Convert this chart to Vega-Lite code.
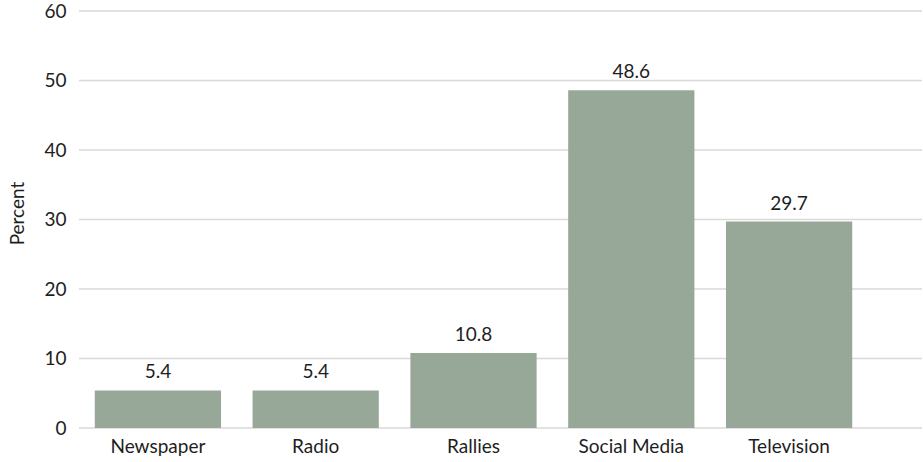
{
  "$schema": "https://vega.github.io/schema/vega-lite/v6.json",
  "autosize": "none",
  "width": 843,
  "height": 417,
  "padding": {"left": 79, "top": 11, "right": 1, "bottom": 34},
  "background": "white",
  "config": {
    "view": {"stroke": null},
    "font": "Lato",
    "axis": {"labelFont": "Lato", "titleFont": "Lato", "labelColor": "#1e1e1e", "titleColor": "#1e1e1e"}
  },
  "datasets": {
    "bars": [
      {"source": "Newspaper", "percent": 5.4},
      {"source": "Radio", "percent": 5.4},
      {"source": "Rallies", "percent": 10.8},
      {"source": "Social Media", "percent": 48.6},
      {"source": "Television", "percent": 29.7}
    ],
    "grid": [
      {"v": 0}, {"v": 10}, {"v": 20}, {"v": 30}, {"v": 40}, {"v": 50}, {"v": 60}
    ]
  },
  "layer": [
    {
      "data": {"name": "grid"},
      "mark": {"type": "rule", "color": "#d9d9d9", "strokeWidth": 1.5},
      "encoding": {
        "y": {
          "field": "v",
          "type": "quantitative",
          "scale": {"domain": [0, 60], "nice": false},
          "axis": {
            "title": "Percent",
            "titleFontSize": 19,
            "titleFontWeight": "normal",
            "titlePadding": 16,
            "titleY": 202,
            "values": [0, 10, 20, 30, 40, 50, 60],
            "labelFontSize": 19,
            "labelPadding": 13,
            "ticks": false,
            "domain": false,
            "grid": false
          }
        }
      }
    },
    {
      "data": {"name": "bars"},
      "encoding": {
        "x": {
          "field": "source",
          "type": "nominal",
          "sort": null,
          "scale": {"range": [0, 789], "paddingInner": 0.2, "paddingOuter": 0.1},
          "axis": {
            "title": null,
            "labelAngle": 0,
            "labelFontSize": 19,
            "labelPadding": 9,
            "ticks": false,
            "domain": false
          }
        },
        "y": {"field": "percent", "type": "quantitative"}
      },
      "layer": [
        {"mark": {"type": "bar", "color": "#98a898"}},
        {
          "mark": {"type": "text", "baseline": "alphabetic", "dy": -12, "fontSize": 19, "color": "#1e1e1e", "font": "Lato"},
          "encoding": {"text": {"field": "percent", "type": "quantitative", "format": ".1f"}}
        }
      ]
    }
  ]
}
